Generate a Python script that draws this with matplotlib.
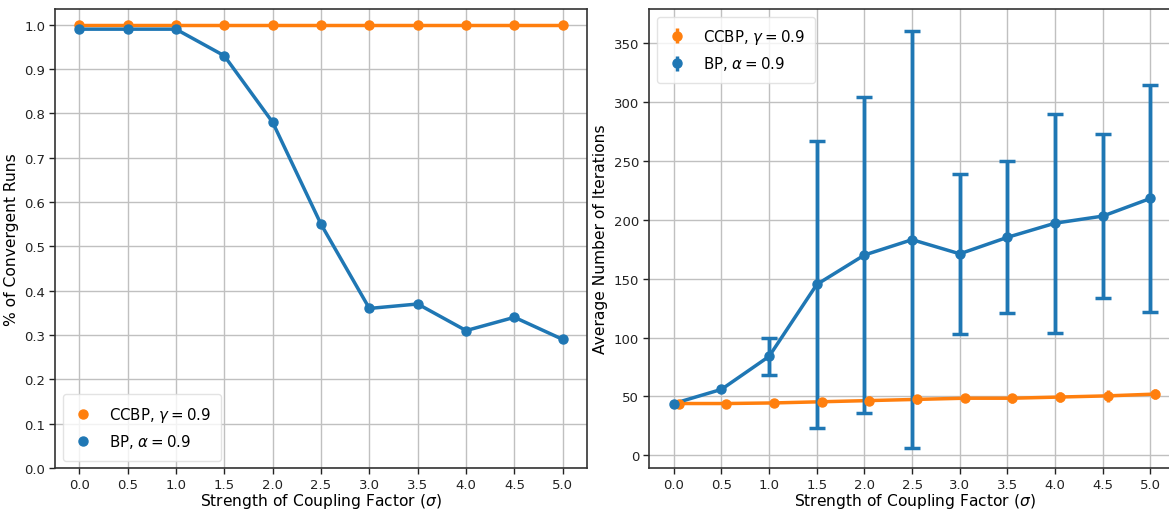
import matplotlib
matplotlib.use("Agg")
import matplotlib.pyplot as plt
import numpy as np

sigma = [0.0, 0.5, 1.0, 1.5, 2.0, 2.5, 3.0, 3.5, 4.0, 4.5, 5.0]
conv_ccbp = [1.0, 1.0, 1.0, 1.0, 1.0, 1.0, 1.0, 1.0, 1.0, 1.0, 1.0]
conv_bp = [0.99, 0.99, 0.99, 0.93, 0.78, 0.55, 0.36, 0.37, 0.31, 0.34, 0.29]

iter_ccbp = [44, 44, 44.5, 45.5, 46.5, 47.5, 48.5, 48.5, 49.5, 50.5, 52]
iter_ccbp_err = [2, 3, 3, 3, 4, 4, 3, 4, 4, 5, 4]
iter_bp = [44, 56, 84, 145, 170, 183, 171, 185, 197, 203, 218]
iter_bp_err = [0, 0, 15.5, 121.5, 134, 177, 68, 64.5, 93, 69.5, 96]
ccbp_shift = 0.05

labels = [r"CCBP, $\gamma = 0.9$", r"BP, $\alpha = 0.9$"]
xticks = [0.0, 0.5, 1.0, 1.5, 2.0, 2.5, 3.0, 3.5, 4.0, 4.5, 5.0]

orange = "#ff7f0e"
blue = "#1f77b4"

W, H = 1169, 510
fig = plt.figure(figsize=(W / 100, H / 100), dpi=100)

def px_axes(l, t, r, b):
    return fig.add_axes([l / W, (H - b) / H, (r - l) / W, (b - t) / H])

ax1 = px_axes(55, 10, 587, 469)
ax2 = px_axes(649, 10, 1180, 469)

def style(ax):
    ax.grid(True, color="#c0c0c0", linewidth=1.0)
    ax.set_axisbelow(True)
    for s in ax.spines.values():
        s.set_color("#333333")
        s.set_linewidth(1.2)
    ax.tick_params(colors="#222222", labelsize=9.5, length=4, width=1, pad=3)
    ax.set_xticks(xticks)
    ax.set_xticklabels([f"{v:.1f}" for v in xticks])
    ax.set_xlabel(r"Strength of Coupling Factor ($\sigma$)", fontsize=11.2, labelpad=0)

legkw = dict(fontsize=10.8, handlelength=1.3, handletextpad=1.1, borderpad=0.7,
             labelspacing=0.55, framealpha=0.8, edgecolor="#dddddd", fancybox=True)

# Left
ax1.plot(sigma, conv_ccbp, "-", color=orange, lw=2.5)
ax1.plot(sigma, conv_bp, "-", color=blue, lw=2.5)
ax1.plot(sigma, conv_ccbp, "o", color=orange, ms=6.5, label=labels[0])
ax1.plot(sigma, conv_bp, "o", color=blue, ms=6.5, label=labels[1])
style(ax1)
ax1.set_xlim(-0.25, 5.25)
ax1.set_yticks(np.arange(0, 1.01, 0.1))
ax1.set_yticklabels([f"{v:.1f}" for v in np.arange(0, 1.01, 0.1)])
ax1.set_ylim(0, 1.0355)
ax1.set_ylabel("% of Convergent Runs", fontsize=11.2, labelpad=4)
ax1.legend(loc="lower left", numpoints=1, **legkw)

# Right
x_ccbp = [s + ccbp_shift for s in sigma]
idx = [i for i, e in enumerate(iter_bp_err) if e > 0]
ax2.plot(x_ccbp, iter_ccbp, "-", color=orange, lw=2.5)
ax2.plot(sigma, iter_bp, "-", color=blue, lw=2.5)
ax2.errorbar([sigma[i] for i in idx], [iter_bp[i] for i in idx],
             yerr=[iter_bp_err[i] for i in idx], fmt="none", ecolor=blue,
             elinewidth=2.5, capsize=6, capthick=2.5)
ax2.errorbar(x_ccbp, iter_ccbp, yerr=iter_ccbp_err, fmt="o", color=orange,
             ms=6.5, elinewidth=2.5, capsize=0, label=labels[0])
ax2.errorbar(sigma, iter_bp, yerr=iter_bp_err, fmt="o", color=blue,
             ms=6.5, elinewidth=2.5, capsize=0, label=labels[1])
style(ax2)
ax2.set_xlim(-0.26, 5.31)
ax2.set_ylim(-10.7, 378.7)
ax2.set_yticks([0, 50, 100, 150, 200, 250, 300, 350])
ax2.set_ylabel("Average Number of Iterations", fontsize=11.2, labelpad=4)
ax2.legend(loc="upper left", **legkw)

fig.savefig("out.png", dpi=100)
